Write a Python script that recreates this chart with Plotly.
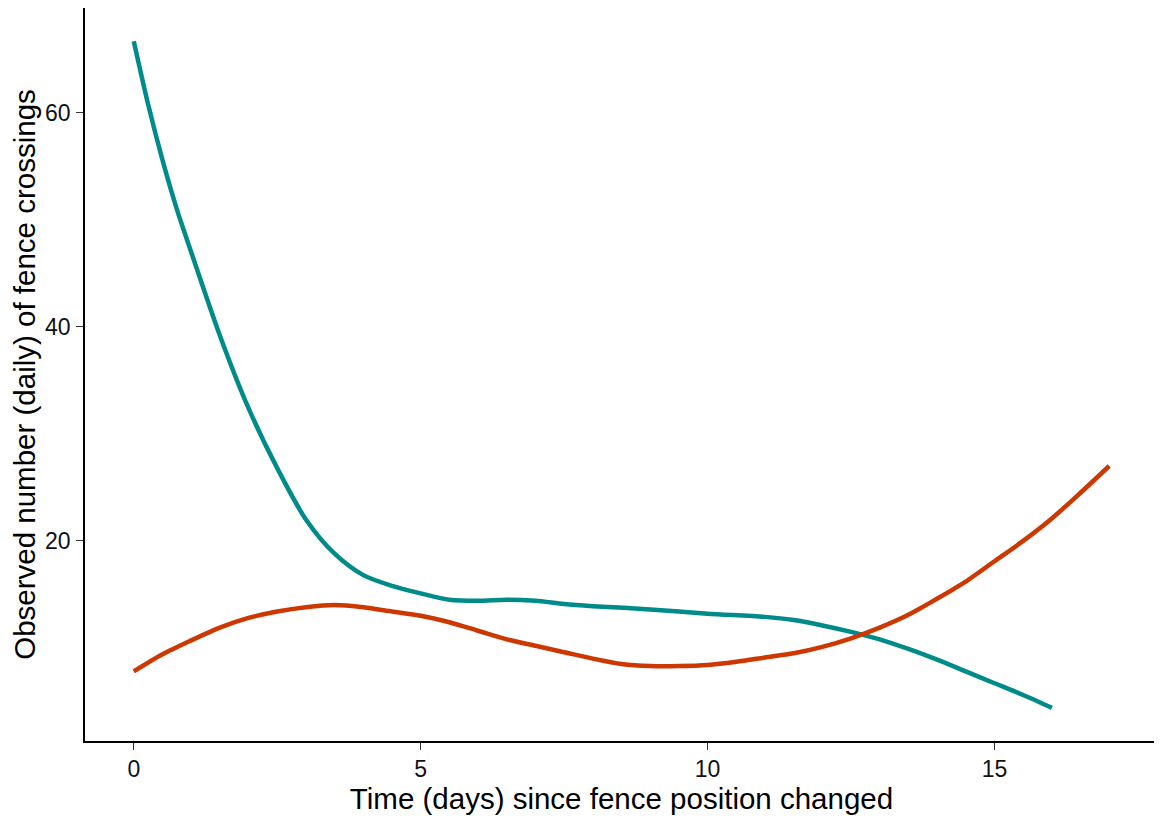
import plotly.graph_objects as go

# Teal series (decreasing curve)
teal_x = [0, 0.25, 0.5, 0.75, 1, 1.5, 2, 2.5, 3, 3.5, 4, 4.5, 5, 5.5, 6, 6.5, 7, 7.5, 8, 9, 10, 11, 11.5, 12, 12.5, 13, 13.5, 14, 14.5, 15, 15.5, 16]
teal_y = [66.7, 60.8, 55.6, 51.0, 47.0, 39.2, 32.4, 26.8, 22.0, 18.8, 16.8, 15.8, 15.1, 14.5, 14.4, 14.5, 14.4, 14.1, 13.9, 13.6, 13.2, 12.9, 12.6, 12.1, 11.5, 10.8, 9.9, 8.9, 7.8, 6.7, 5.6, 4.4]

# Red series (U-shaped curve)
red_x = [0, 0.5, 1, 1.5, 2, 2.5, 3, 3.5, 4, 4.5, 5, 5.5, 6, 6.5, 7, 7.5, 8, 8.5, 9, 9.5, 10, 10.5, 11, 11.5, 12, 12.5, 13, 13.5, 14, 14.5, 15, 15.5, 16, 16.5, 17]
red_y = [7.8, 9.4, 10.7, 11.9, 12.8, 13.4, 13.8, 14.0, 13.8, 13.4, 13.0, 12.4, 11.6, 10.8, 10.2, 9.6, 9.0, 8.5, 8.3, 8.3, 8.4, 8.7, 9.1, 9.5, 10.1, 10.9, 11.9, 13.1, 14.6, 16.2, 18.1, 20.0, 22.1, 24.5, 27.0]

x_ticks = [0, 5, 10, 15]
y_ticks = [20, 40, 60]

fig = go.Figure()
fig.add_trace(go.Scatter(x=teal_x, y=teal_y, mode="lines",
                         line=dict(color="#008B8B", width=4.5, shape="spline", smoothing=0.8),
                         showlegend=False))
fig.add_trace(go.Scatter(x=red_x, y=red_y, mode="lines",
                         line=dict(color="#CD3700", width=4.5, shape="spline", smoothing=0.8),
                         showlegend=False))

font_family = "Liberation Sans, Arial, sans-serif"

fig.update_xaxes(range=[-0.85, 17.85], tickvals=x_ticks, automargin=False,
                 showgrid=False, zeroline=False, showline=True, linecolor="black",
                 linewidth=1.5, ticks="outside", ticklen=7, tickwidth=1.2, tickcolor="#333333",
                 ticklabelstandoff=0,
                 tickfont=dict(family=font_family, size=23, color="#111111"),
                 title=dict(text="Time (days) since fence position changed",
                            font=dict(family=font_family, size=29.5, color="black"),
                            standoff=2))
fig.update_yaxes(range=[1.3, 69.8], tickvals=y_ticks, automargin=False,
                 showgrid=False, zeroline=False, showline=True, linecolor="black",
                 linewidth=1.5, ticks="outside", ticklen=7, tickwidth=1.2, tickcolor="#333333",
                 ticklabelstandoff=1,
                 tickfont=dict(family=font_family, size=23, color="#111111"),
                 title=dict(text="Observed number (daily) of fence crossings",
                            font=dict(family=font_family, size=29.5, color="black"),
                            standoff=8))

# page body has an 8px margin, so the figure is sized/offset to land on the same pixels
fig.update_layout(width=1154, height=810,
                  margin=dict(l=77, r=4, t=0, b=77, autoexpand=False),
                  plot_bgcolor="white", paper_bgcolor="white")

fig.write_html("out.html")
